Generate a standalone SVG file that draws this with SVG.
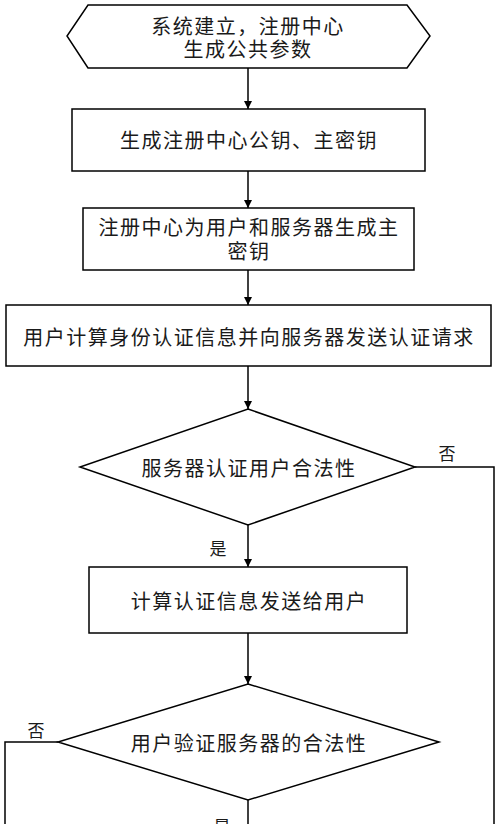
<svg xmlns="http://www.w3.org/2000/svg" width="500" height="824" viewBox="0 0 500 824">
<defs>
<marker id="arr" viewBox="0 0 10 10" refX="10" refY="5" markerWidth="8" markerHeight="8" markerUnits="userSpaceOnUse" orient="auto">
<path d="M0,0 L10,5 L0,10 z" fill="#000"/>
</marker>
</defs>
<style>
.shape{fill:#fff;stroke:#000;stroke-width:1.5}
.t{font-family:"Noto Sans CJK SC","Noto Sans CJK JP",sans-serif;font-size:20px;fill:#1a1a1a;text-anchor:middle;dominant-baseline:central;letter-spacing:1.5px}
.lab{font-family:"Noto Sans CJK SC",sans-serif;font-size:17px;fill:#1a1a1a;text-anchor:middle;dominant-baseline:central}
.c{fill:none;stroke:#000;stroke-width:1.5}
</style>
<rect width="500" height="824" fill="#fff"/>
<g id="connectors">
<line class="c" x1="248" y1="68" x2="248" y2="109" marker-end="url(#arr)"/>
<line class="c" x1="248" y1="171" x2="248" y2="208" marker-end="url(#arr)"/>
<line class="c" x1="248" y1="270" x2="248" y2="305" marker-end="url(#arr)"/>
<line class="c" x1="248" y1="366" x2="248" y2="409" marker-end="url(#arr)"/>
<line class="c" x1="248" y1="525" x2="248" y2="567" marker-end="url(#arr)"/>
<line class="c" x1="248" y1="633" x2="248" y2="684" marker-end="url(#arr)"/>
<line class="c" x1="248" y1="800" x2="248" y2="824"/>
<polyline class="c" points="415,467 494,467 494,824"/>
<polyline class="c" points="58,742 5,742 5,824"/>
<text class="lab" x="447" y="452">否</text>
<text class="lab" x="218" y="547">是</text>
<text class="lab" x="36" y="729">否</text>
<text class="lab" x="222" y="825">是</text>
</g>
<g id="n1">
<polygon class="shape" points="88,5 407,5 430,36 407,68 88,68 67,36"/>
<text class="t" x="248" y="25">系统建立，注册中心</text>
<text class="t" x="248" y="48">生成公共参数</text>
</g>
<g id="n2">
<rect class="shape" x="72" y="109" width="353" height="62"/>
<text class="t" x="249" y="139">生成注册中心公钥、主密钥</text>
</g>
<g id="n3">
<rect class="shape" x="83" y="208" width="331" height="62"/>
<text class="t" x="249" y="226">注册中心为用户和服务器生成主</text>
<text class="t" x="249" y="250">密钥</text>
</g>
<g id="n4">
<rect class="shape" x="6" y="305" width="485" height="61"/>
<text class="t" x="249" y="336">用户计算身份认证信息并向服务器发送认证请求</text>
</g>
<g id="n5">
<polygon class="shape" points="248,409 415,467 248,525 80,467"/>
<text class="t" x="249" y="467">服务器认证用户合法性</text>
</g>
<g id="n6">
<rect class="shape" x="89" y="567" width="318" height="66"/>
<text class="t" x="249" y="600">计算认证信息发送给用户</text>
</g>
<g id="n7">
<polygon class="shape" points="248,684 439,742 248,800 58,742"/>
<text class="t" x="249" y="742">用户验证服务器的合法性</text>
</g>
</svg>
